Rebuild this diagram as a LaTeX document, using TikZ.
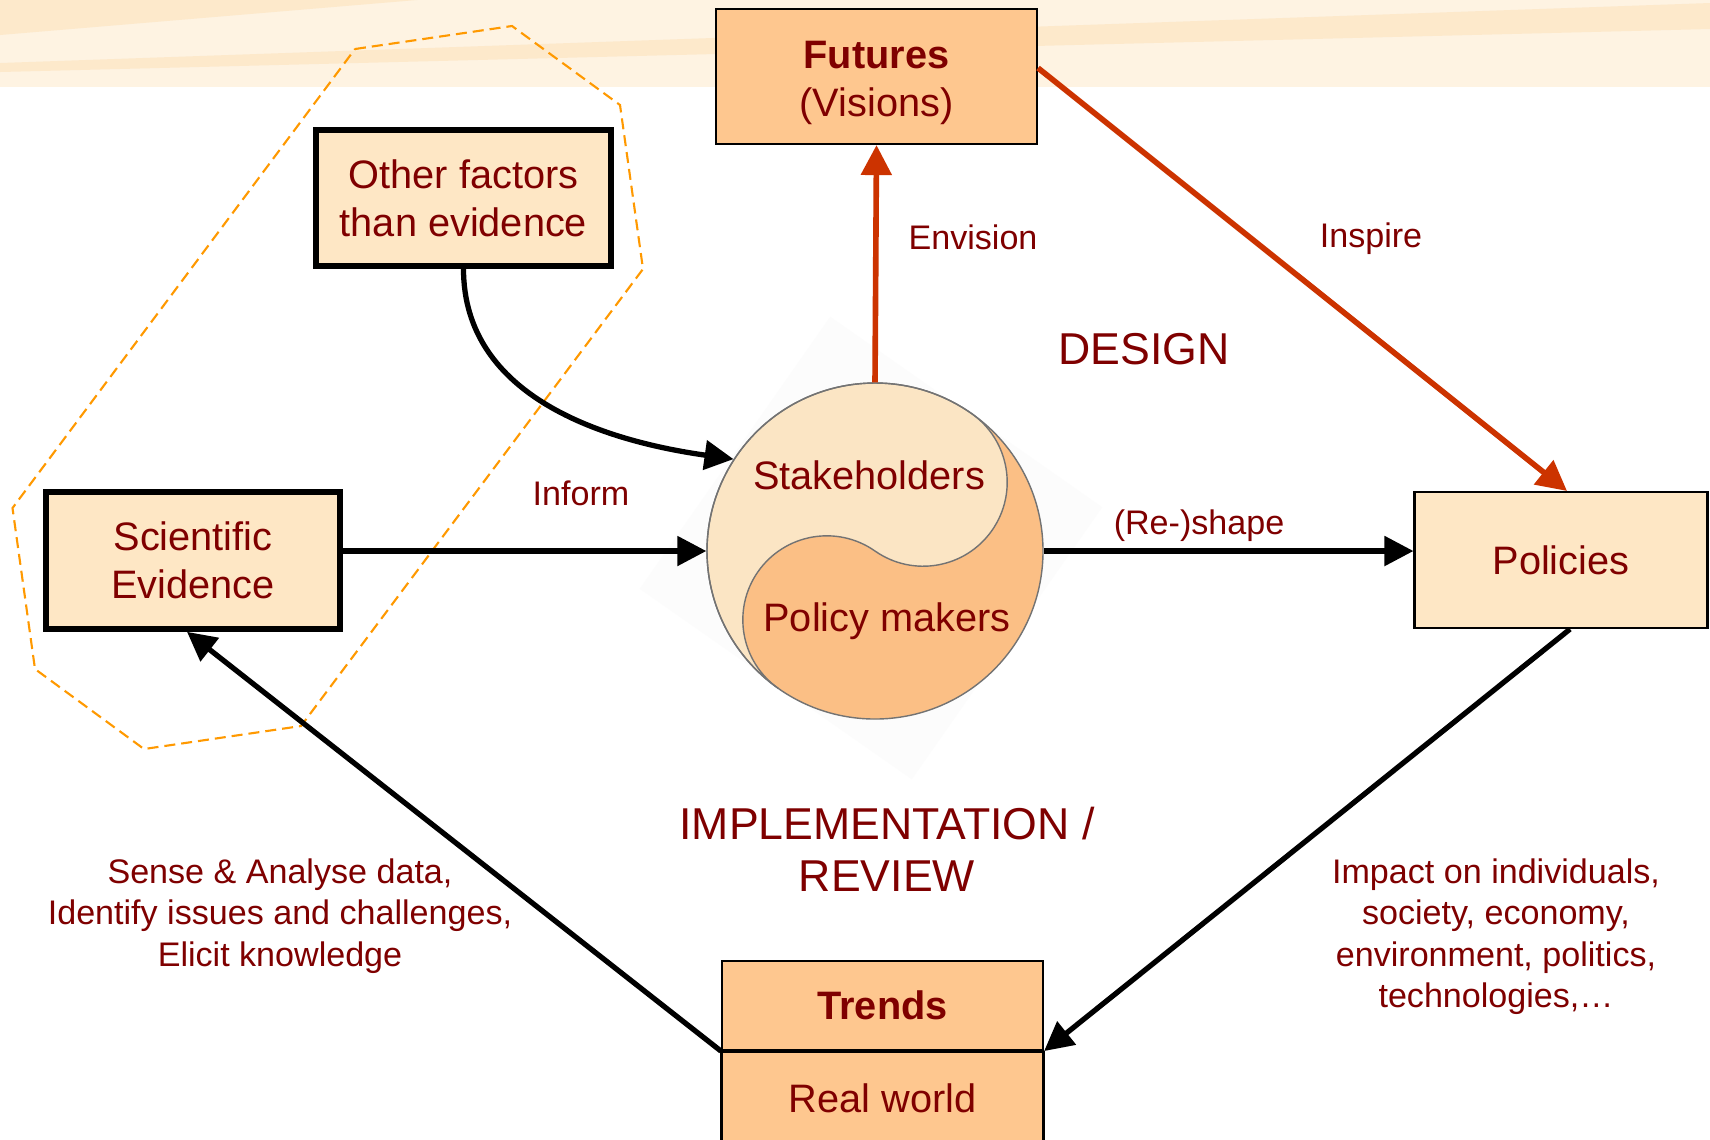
\documentclass[tikz,border=0pt]{standalone}
\usepackage{fontspec}
\setmainfont{Liberation Sans}
\usepackage{xcolor}
\usetikzlibrary{
  arrows.meta,
  shapes
}
\definecolor{darkred}{HTML}{7F0000}
\definecolor{boxlight}{HTML}{FEE7C5}
\definecolor{boxdark}{HTML}{FEC78F}
\definecolor{yinlight}{HTML}{FBE5C4}
\definecolor{yindark}{HTML}{FBBF85}
\definecolor{redline}{HTML}{CC3300}
\definecolor{hexorange}{HTML}{FF9900}
\definecolor{bandbase}{HTML}{FEF3E2}
\definecolor{banddark}{HTML}{FDE9CB}

\tikzset{
  box/.style={draw=black, line width=0.6pt, text=darkred, align=center,
    inner sep=0pt, font=\fontsize{11.3}{13.6}\selectfont},
  heavybox/.style={box, line width=1.6pt},
  lbl/.style={text=darkred, align=center, font=\fontsize{9.7}{11.8}\selectfont},
  biglbl/.style={text=darkred, align=center, font=\fontsize{12.7}{14.8}\selectfont},
  blkarrow/.style={line width=1.5pt, -{Triangle[length=0.29cm,width=0.29cm]}},
  redarrow/.style={draw=redline, line width=1.6pt,
    -{Triangle[length=0.30cm,width=0.30cm]}},
  hexdash/.style={draw=hexorange, line width=0.6pt, dash pattern=on 0.11cm off 0.06cm}
}

\begin{document}
\begin{tikzpicture}
  \def\W{17.10};
  \def\H{11.39};
  \def\R{1.68};
  \def\Ang{55};
  \clip (0,0) rectangle (\W,-\H);
  \fill[white] (0,0) rectangle (\W,-\H);

  % top band
  \fill[bandbase] (0,0) rectangle (\W,-0.87);
  \fill[banddark] (0,0) -- (4.17,0) -- (0,-0.35) -- cycle;
  \fill[banddark] (0,-0.63) -- (\W,-0.03) -- (\W,-0.29) -- (0,-0.72) -- cycle;

  % evidence group
  \draw[hexdash] (3.55,-0.49) -- (5.12,-0.26) -- (6.20,-1.05) -- (6.43,-2.69)
    -- (3.01,-7.26) -- (1.44,-7.49) -- (0.35,-6.69) -- (0.125,-5.08) -- cycle;

  % boxes
  \node[box, fill=boxdark, minimum width=3.21cm, minimum height=1.35cm]
    (futures) at (8.765,-0.765) {\rule{0pt}{0.40cm}\textbf{Futures}\\(Visions)};
  \node[heavybox, fill=boxlight, minimum width=2.95cm, minimum height=1.36cm]
    (other) at (4.635,-1.98) {Other factors\\than evidence};
  \node[heavybox, fill=boxlight, minimum width=2.94cm, minimum height=1.37cm]
    (sci) at (1.93,-5.605) {Scientific\\Evidence};
  \node[box, fill=boxlight, minimum width=2.93cm, minimum height=1.36cm]
    (pol) at (15.61,-5.60) {Policies};
  \node[box, fill=boxdark, minimum width=3.21cm, minimum height=0.89cm]
    (trends) at (8.825,-10.055) {\textbf{Trends}};
  \node[box, fill=boxdark, minimum width=3.21cm, minimum height=0.92cm,
    anchor=north] (world) at (trends.south) {Real world};
  \draw[line width=0.6pt] (world.north west) -- (world.south west |- 0,-12)
    (world.north east) -- (world.south east |- 0,-12);
  \fill[boxdark] ([xshift=0.3pt]world.south west) rectangle ([xshift=-0.3pt]world.south east |- 0,-12);

  % yin-yang of actors
  \node[fill=black!1.2, minimum size=3.32cm, rotate=-35] (shadow) at (8.71,-5.48) {};
  \node[circle, minimum size=2*\R cm, inner sep=0pt] (group) at (8.75,-5.51) {};
  \fill[yindark] (group.center) circle (\R);
  \filldraw[fill=yinlight, draw=black!55, line width=0.4pt]
    (group.center) ++(\Ang:\R)
    arc[start angle=\Ang, end angle=\Ang+180, radius=\R]
    arc[start angle=\Ang+180, end angle=\Ang, radius=\R/2]
    arc[start angle=\Ang+180, end angle=\Ang+360, radius=\R/2] -- cycle;
  \draw[black!55, line width=0.4pt] (group.center) circle (\R);
  \node[box, draw=none] (stake) at (8.69,-4.755) {Stakeholders};
  \node[box, draw=none] (makers) at (8.87,-6.21) {Policy makers};

  % connectors
  \draw[redarrow] (group.north) -- (futures.south);
  \draw[redarrow] ([yshift=0.085cm]futures.east) -- ([xshift=0.06cm]pol.north);
  \draw[blkarrow] (other.south) to[out=-90, in=172] (group.147);
  \draw[blkarrow] (sci.east |- group.west) -- (group.west);
  \draw[blkarrow] (group.east) -- (pol.west |- group.east);
  \draw[blkarrow] ([xshift=0.09cm]pol.south) -- (trends.south east);
  \draw[blkarrow] (trends.south west) -- ([xshift=-0.06cm]sci.south);

  % labels
  \node[lbl] (envision) at (9.73,-2.37) {Envision};
  \node[lbl] (inspire) at (13.71,-2.39) {Inspire};
  \node[lbl] (inform) at (5.81,-4.93) {Inform};
  \node[lbl] (reshape) at (11.99,-5.26) {(Re-)shape};
  \node[biglbl] (design) at (11.44,-3.49) {DESIGN};
  \node[biglbl] (review) at (8.87,-8.495) {IMPLEMENTATION /\\REVIEW};
  \node[lbl] (sense) at (2.80,-9.157)
    {Sense \& Analyse data,\\Identify issues and challenges,\\Elicit knowledge};
  \node[lbl] (impact) at (14.96,-9.365)
    {Impact on individuals,\\society, economy,\\environment, politics,\\technologies,\dots};
\end{tikzpicture}
\end{document}
